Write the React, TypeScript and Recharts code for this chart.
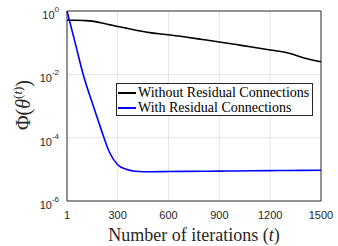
import { CartesianGrid, Line, LineChart, ReferenceLine, XAxis, YAxis } from "recharts";

const iterations = [1, 50, 100, 150, 200, 250, 300, 350, 400, 450, 500, 600, 700, 800, 900, 1000, 1100, 1200, 1300, 1400, 1500];
const withoutResidual = [
  0.513, 0.51, 0.5, 0.479, 0.427, 0.372, 0.324, 0.288, 0.251, 0.224, 0.204, 0.178, 0.151, 0.126, 0.105, 0.087, 0.072,
  0.059, 0.048, 0.033, 0.0248,
];
const withResidual = [
  1.0, 0.095, 0.0085, 0.00126, 2.0e-4, 3.6e-5, 1.4e-5, 1.0e-5, 8.7e-6, 8.4e-6, 8.4e-6, 8.5e-6, 8.6e-6, 8.7e-6, 8.8e-6,
  8.9e-6, 9.0e-6, 9.1e-6, 9.2e-6, 9.3e-6, 9.4e-6,
];
const seriesNames = ["Without Residual Connections", "With Residual Connections"];
const xTicks = [1, 300, 600, 900, 1200, 1500];
const yTicks = [1e-6, 1e-4, 1e-2, 1];

const data = iterations.map((t, i) => ({ t, without: withoutResidual[i], with: withResidual[i] }));

const C = {
  axis: "#262626",
  grid: "#e3e3e3",
  black: "#000000",
  blue: "#0000ff",
};

const sans = "'Liberation Sans', Arial, sans-serif";
const serif = "'Liberation Serif', 'DejaVu Serif', serif";

function LogTick(props: any) {
  const { x, y, payload } = props;
  const e = Math.round(Math.log10(payload.value));
  return (
    <text x={x} y={y + 8} textAnchor="end" fill={C.axis} fontFamily={sans} fontSize={11}>
      <tspan>10</tspan>
      <tspan dy={-7} fontSize={8}>
        {e}
      </tspan>
    </text>
  );
}

function XTick(props: any) {
  const { x, y, payload } = props;
  return (
    <text x={x} y={y + 10} textAnchor="middle" fill={C.axis} fontFamily={sans} fontSize={11}>
      {payload.value}
    </text>
  );
}

function LegendBox() {
  const rows = [
    { name: seriesNames[0], color: C.black },
    { name: seriesNames[1], color: C.blue },
  ];
  return (
    <div
      style={{
        position: "absolute",
        left: 116,
        top: 83,
        background: "#fff",
        border: "1px solid #262626",
        width: 197,
        height: 33,
        boxSizing: "border-box",
        padding: "1px 0 0 1px",
      }}
    >
      {rows.map((r) => (
        <div key={r.name} style={{ display: "flex", alignItems: "center", height: 15 }}>
          <div style={{ width: 18, height: 2, background: r.color, marginRight: 2 }} />
          <span style={{ fontFamily: serif, fontSize: 14, color: "#000", whiteSpace: "nowrap" }}>{r.name}</span>
        </div>
      ))}
    </div>
  );
}

export default function App() {
  return (
    <div style={{ position: "absolute", left: 0, top: 0, width: 338, height: 246, background: "#fff" }}>
      <LineChart width={338} height={246} data={data} margin={{ top: 11, right: 17, bottom: 0, left: 0 }}>
        <CartesianGrid stroke={C.grid} strokeWidth={1} verticalValues={[300, 600, 900, 1200]} horizontalValues={[1e-4, 1e-2]} />
        <XAxis
          dataKey="t"
          type="number"
          domain={[1, 1500]}
          ticks={xTicks}
          interval={0}
          height={45}
          stroke={C.axis}
          tickLine={false}
          tick={<XTick />}
        />
        <YAxis
          type="number"
          scale="log"
          domain={[1e-6, 1]}
          ticks={yTicks}
          interval={0}
          width={67}
          stroke={C.axis}
          tickLine={false}
          tick={<LogTick />}
          allowDataOverflow
        />
        <ReferenceLine y={1} stroke={C.axis} />
        <ReferenceLine x={1500} stroke={C.axis} />
        <Line
          type="monotone"
          dataKey="without"
          name={seriesNames[0]}
          stroke={C.black}
          strokeWidth={1.6}
          dot={false}
          isAnimationActive={false}
        />
        <Line
          type="monotone"
          dataKey="with"
          name={seriesNames[1]}
          stroke={C.blue}
          strokeWidth={1.6}
          dot={false}
          isAnimationActive={false}
        />
      </LineChart>
      <LegendBox />
      <svg width={338} height={246} style={{ position: "absolute", left: 0, top: 0, pointerEvents: "none" }}>
        <text x={194} y={241} textAnchor="middle" fontFamily={serif} fontSize={18} fill={C.axis}>
          Number of iterations (<tspan fontStyle="italic">t</tspan>)
        </text>
        <text
          transform="translate(30,105) rotate(-90)"
          textAnchor="middle"
          fontFamily={serif}
          fontSize={20}
          fill={C.axis}
        >
          Φ(<tspan fontStyle="italic">θ</tspan>
          <tspan dy={-8} fontSize={13}>
            (<tspan fontStyle="italic">t</tspan>)
          </tspan>
          <tspan dy={8}>)</tspan>
        </text>
      </svg>
    </div>
  );
}
